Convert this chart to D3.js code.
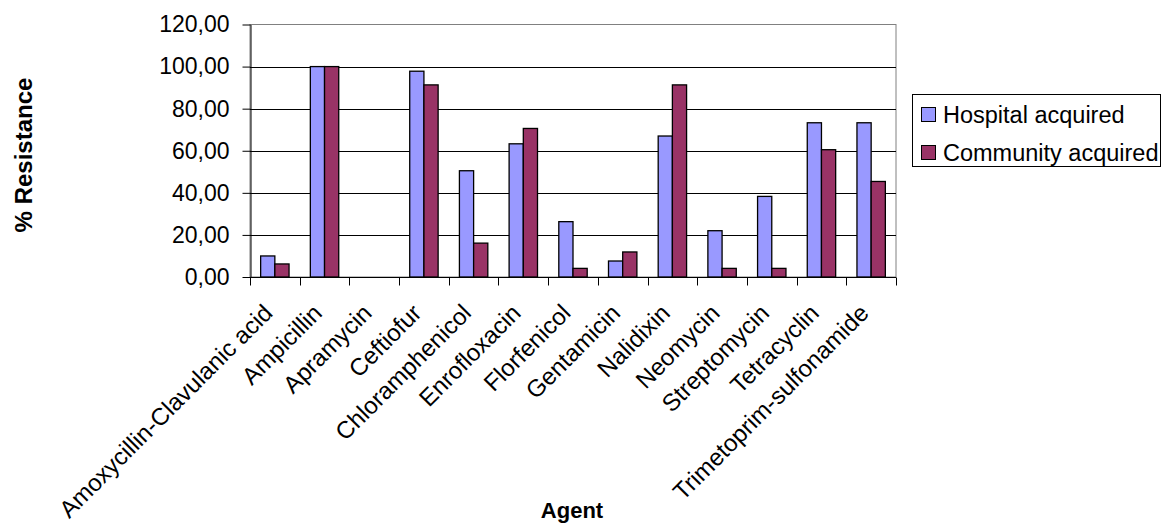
<!DOCTYPE html>
<html>
<head>
<meta charset="utf-8">
<script src="https://cdn.jsdelivr.net/npm/d3@7"></script>
<style>
  html, body { margin: 0; padding: 0; background: #fff; }
  svg { display: block; font-family: Arial, "Liberation Sans", sans-serif; }
</style>
</head>
<body>
<svg id="chart" width="1162" height="526"></svg>
<script>
// Antimicrobial resistance by agent, hospital vs community acquired isolates
const agents = [
  "Amoxycillin-Clavulanic acid", "Ampicillin", "Apramycin", "Ceftiofur",
  "Chloramphenicol", "Enrofloxacin", "Florfenicol", "Gentamicin",
  "Nalidixin", "Neomycin", "Streptomycin", "Tetracyclin", "Trimetoprim-sulfonamide"
];
const hospital  = [10.0, 100.0, 0, 97.8, 50.5, 63.3, 26.3, 7.6, 67.0, 22.0, 38.3, 73.3, 73.3];
const community = [6.2, 100.0, 0, 91.3, 16.1, 70.6, 4.1, 11.9, 91.3, 4.1, 4.1, 60.5, 45.4];
const seriesNames = ["Hospital acquired", "Community acquired"];
const seriesColors = ["#9999FF", "#993366"];
const yTicks = [0, 20, 40, 60, 80, 100, 120];

const svg = d3.select("#chart");
const plot = { left: 250, right: 896, top: 24.5, bottom: 277 };

const x = d3.scaleBand().domain(agents).range([plot.left, plot.right]);
// two bars per category with a 150% gap split around them
const inner = d3.scaleBand().domain(d3.range(seriesNames.length))
  .range([0, x.bandwidth()]).paddingInner(0).paddingOuter(0.75);
const y = d3.scaleLinear().domain([0, 120]).range([plot.bottom, plot.top]);

const fmt = v => d3.format(".2f")(v).replace(".", ",");

// plot frame
svg.append("rect")
  .attr("x", plot.left).attr("y", plot.top)
  .attr("width", plot.right - plot.left).attr("height", plot.bottom - plot.top)
  .attr("fill", "none").attr("stroke", "#808080").attr("stroke-width", 1);

// gridlines
svg.append("g").selectAll("line").data(yTicks.filter(t => t > 0 && t < 120)).join("line")
  .attr("x1", plot.left).attr("x2", plot.right)
  .attr("y1", d => Math.round(y(d)) + 0.5).attr("y2", d => Math.round(y(d)) + 0.5)
  .attr("stroke", "#000").attr("stroke-width", 1);

// bars
const groups = svg.append("g").selectAll("g").data(agents).join("g")
  .attr("transform", d => `translate(${x(d)},0)`);
groups.selectAll("rect")
  .data((d, i) => [hospital[i], community[i]].map((v, s) => ({ v, s })))
  .join("rect")
  .attr("x", d => inner(d.s))
  .attr("width", inner.bandwidth())
  .attr("y", d => y(d.v))
  .attr("height", d => y(0) - y(d.v))
  .attr("fill", d => seriesColors[d.s])
  .attr("stroke", d => d.v > 0 ? "#000" : "none")
  .attr("stroke-width", 1.3);

// y axis
const yAxis = d3.axisLeft(y).tickValues(yTicks).tickFormat(fmt).tickSizeInner(8).tickSizeOuter(0).tickPadding(13);
const gy = svg.append("g").attr("transform", `translate(${plot.left + 0.5},0)`).call(yAxis);
gy.select(".domain").attr("stroke", "#000");
gy.selectAll(".tick line").attr("stroke", "#000");
gy.selectAll("text").attr("font-size", "23px").attr("fill", "#000")
  .attr("font-family", "Arial, 'Liberation Sans', sans-serif");

// x axis with ticks at category boundaries
const gx = svg.append("g").attr("transform", `translate(0,${plot.bottom + 0.5})`);
gx.append("line").attr("x1", plot.left).attr("x2", plot.right).attr("stroke", "#000");
const boundaries = agents.map(a => x(a)).concat([plot.right]);
gx.selectAll("line.tk").data(boundaries).join("line").attr("class", "tk")
  .attr("x1", d => Math.round(d) + 0.5).attr("x2", d => Math.round(d) + 0.5)
  .attr("y1", 0).attr("y2", 8).attr("stroke", "#000");
gx.selectAll("text").data(agents).join("text")
  .attr("transform", d => `translate(${x(d) + x.bandwidth() / 2 - 1},37) rotate(-45)`)
  .attr("text-anchor", "end")
  .attr("font-size", "24px")
  .attr("fill", "#000")
  .text(d => d);

// axis titles
svg.append("text").attr("x", 572).attr("y", 518).attr("text-anchor", "middle")
  .attr("font-size", "22px").attr("font-weight", "bold").text("Agent");
svg.append("text").attr("transform", "translate(32,155) rotate(-90)").attr("text-anchor", "middle")
  .attr("font-size", "24px").attr("font-weight", "bold").text("% Resistance");

// legend
const lg = svg.append("g");
lg.append("rect").attr("x", 912.5).attr("y", 94.5).attr("width", 248).attr("height", 72)
  .attr("fill", "#fff").attr("stroke", "#000");
const items = lg.selectAll("g").data(seriesNames).join("g")
  .attr("transform", (d, i) => `translate(921,${115 + i * 38})`);
items.append("rect").attr("x", 0.5).attr("y", -7.5).attr("width", 14).attr("height", 14)
  .attr("fill", (d, i) => seriesColors[i]).attr("stroke", "#000");
items.append("text").attr("x", 22).attr("y", 0).attr("dy", "0.35em")
  .attr("font-size", "23.5px").text(d => d);
</script>
</body>
</html>
